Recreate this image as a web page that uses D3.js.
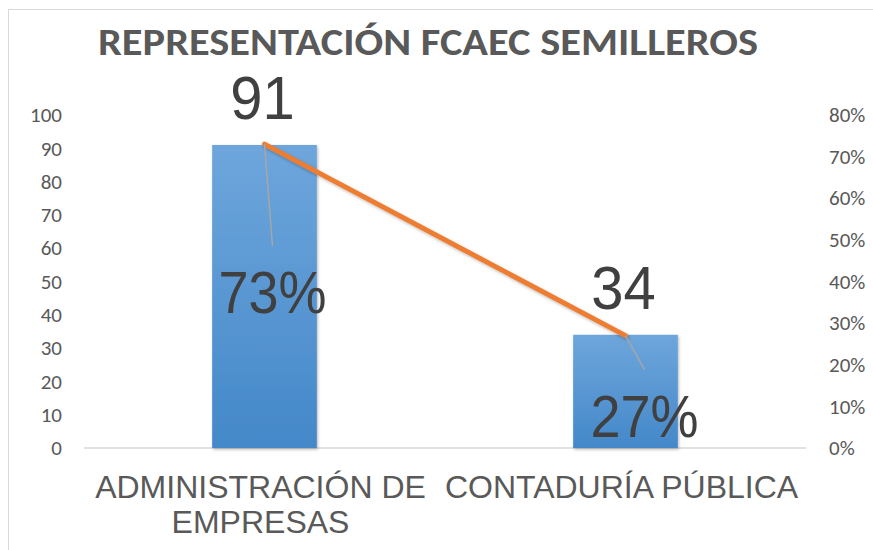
<!DOCTYPE html>
<html>
<head>
<meta charset="utf-8">
<script src="https://cdn.jsdelivr.net/npm/d3@7"></script>
<style>
  html, body { margin: 0; padding: 0; background: #fff; }
  svg { display: block; }
</style>
</head>
<body>
<svg id="chart" width="873" height="550"></svg>
<script>
// ---- data ----
const chartTitle = "REPRESENTACIÓN FCAEC SEMILLEROS";
const categories = ["ADMINISTRACIÓN DE EMPRESAS", "CONTADURÍA PÚBLICA"];
const categoryLines = [["ADMINISTRACIÓN DE", "EMPRESAS"], ["CONTADURÍA PÚBLICA"]];
const counts = [91, 34];
const shares = [0.73, 0.27];
const leftTicks = [0, 10, 20, 30, 40, 50, 60, 70, 80, 90, 100];
const rightTicks = [0, 0.1, 0.2, 0.3, 0.4, 0.5, 0.6, 0.7, 0.8];

// ---- layout ----
const plot = { left: 84, right: 806, top: 115, bottom: 448 };
const shareLabelOffsets = [[8, 169], [19, 101]]; // manual label placement (dx, dy from line point)

const svg = d3.select("#chart");
const defs = svg.append("defs");

const grad = defs.append("linearGradient").attr("id", "barGrad")
  .attr("x1", 0).attr("y1", 0).attr("x2", 0).attr("y2", 1);
grad.append("stop").attr("offset", "0%").attr("stop-color", "#6ea6dc");
grad.append("stop").attr("offset", "100%").attr("stop-color", "#4488c9");

const shadow = defs.append("filter").attr("id", "shadow")
  .attr("x", "-20%").attr("y", "-20%").attr("width", "140%").attr("height", "140%");
shadow.append("feDropShadow").attr("dx", 1).attr("dy", 1.5)
  .attr("stdDeviation", 1.5).attr("flood-color", "#000").attr("flood-opacity", 0.28);

// chart border
svg.append("rect").attr("x", 8.5).attr("y", 9.5).attr("width", 900).attr("height", 600)
  .attr("fill", "none").attr("stroke", "#d9d9d9").attr("stroke-width", 1);

// title
svg.append("text")
  .attr("x", 98).attr("y", 55)
  .attr("font-family", "Carlito, 'Open Sans', sans-serif")
  .attr("font-weight", 700).attr("font-size", 39)
  .attr("fill", "#595959")
  .attr("textLength", 660).attr("lengthAdjust", "spacingAndGlyphs")
  .text(chartTitle);

// scales
const x = d3.scaleBand().domain(categories)
  .range([plot.left, plot.right]).paddingInner(0.71).paddingOuter(0.355);
const yL = d3.scaleLinear().domain([0, 100]).range([plot.bottom, plot.top]);
const yR = d3.scaleLinear().domain([0, 0.8]).range([plot.bottom, plot.top]);

// axes
const tickFont = "Carlito, Lato, sans-serif";
const axL = svg.append("g").attr("transform", `translate(${plot.left},0)`)
  .call(d3.axisLeft(yL).tickValues(leftTicks).tickSize(0).tickPadding(22).tickFormat(d3.format("d")));
const axR = svg.append("g").attr("transform", `translate(${plot.right},0)`)
  .call(d3.axisRight(yR).tickValues(rightTicks).tickSize(0).tickPadding(23).tickFormat(d3.format(".0%")));
[axL, axR].forEach(a => {
  a.select(".domain").remove();
  a.selectAll("text").attr("font-family", tickFont).attr("font-size", 21).attr("fill", "#595959");
});

// baseline
svg.append("line")
  .attr("x1", plot.left).attr("x2", plot.right)
  .attr("y1", yL(0)).attr("y2", yL(0))
  .attr("stroke", "#d9d9d9").attr("stroke-width", 1.5);

// bars
svg.append("g").selectAll("rect").data(categories).join("rect")
  .attr("x", d => x(d))
  .attr("y", (d, i) => yL(counts[i]))
  .attr("width", x.bandwidth())
  .attr("height", (d, i) => yL(0) - yL(counts[i]))
  .attr("fill", "url(#barGrad)")
  .attr("filter", "url(#shadow)");

// line series
const cx = d => x(d) + x.bandwidth() / 2;
const linePts = categories.map((c, i) => [cx(c), yR(shares[i])]);
svg.append("path")
  .attr("d", d3.line()(linePts))
  .attr("fill", "none").attr("stroke", "#ed7d31").attr("stroke-width", 5)
  .attr("stroke-linecap", "round")
  .attr("filter", "url(#shadow)");

// count labels
svg.append("g").selectAll("text").data(categories).join("text")
  .attr("transform", (d, i) => `translate(${cx(d) - 2},${yL(counts[i]) - 25.5}) scale(0.95,1)`)
  .attr("text-anchor", "middle")
  .attr("font-family", "'Liberation Sans', Arial, sans-serif")
  .attr("font-size", 61).attr("fill", "#404040")
  .text((d, i) => counts[i]);

// share labels + leader lines
const sharePos = categories.map((c, i) => [cx(c) + shareLabelOffsets[i][0], yR(shares[i]) + shareLabelOffsets[i][1]]);
svg.append("g").selectAll("line").data(categories).join("line")
  .attr("x1", (d, i) => linePts[i][0])
  .attr("y1", (d, i) => linePts[i][1])
  .attr("x2", (d, i) => sharePos[i][0])
  .attr("y2", (d, i) => sharePos[i][1] - 67)
  .attr("stroke", "#a6a6a6").attr("stroke-width", 1.5);
svg.append("g").selectAll("text").data(categories).join("text")
  .attr("transform", (d, i) => `translate(${sharePos[i][0]},${sharePos[i][1]}) scale(0.9,1)`)
  .attr("text-anchor", "middle")
  .attr("font-family", "'Liberation Sans', Arial, sans-serif")
  .attr("font-size", 60).attr("fill", "#404040")
  .text((d, i) => d3.format(".0%")(shares[i]));

// category labels
const catG = svg.append("g");
categories.forEach((c, i) => {
  const t = catG.append("text")
    .attr("x", cx(c) - 4).attr("y", 498)
    .attr("text-anchor", "middle")
    .attr("font-family", "'Liberation Sans', Arial, sans-serif")
    .attr("font-size", 32).attr("fill", "#595959");
  categoryLines[i].forEach((ln, j) => {
    t.append("tspan").attr("x", cx(c) - 4).attr("dy", j === 0 ? 0 : 35).text(ln);
  });
});
</script>
</body>
</html>
